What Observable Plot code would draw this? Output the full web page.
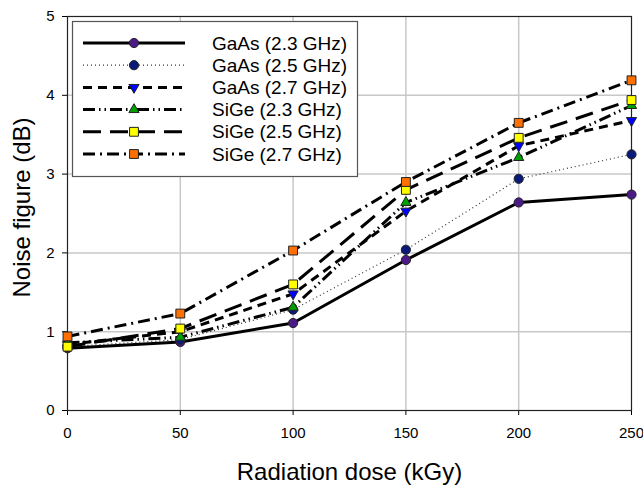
<!DOCTYPE html>
<html>
<head>
<meta charset="utf-8">
<script src="https://cdn.jsdelivr.net/npm/d3@7"></script>
<script src="https://cdn.jsdelivr.net/npm/@observablehq/plot@0.6"></script>
<style>
  html, body { margin: 0; padding: 0; background: #fff; }
  #chart { width: 643px; height: 486px; }
</style>
</head>
<body>
<div id="chart"></div>
<script>
// ---- data ----
const doses = [0, 50, 100, 150, 200, 250];
const seriesNames = ["GaAs (2.3 GHz)", "GaAs (2.5 GHz)", "GaAs (2.7 GHz)", "SiGe (2.3 GHz)", "SiGe (2.5 GHz)", "SiGe (2.7 GHz)"];
const gaas23 = [0.79, 0.87, 1.11, 1.91, 2.64, 2.74];
const gaas25 = [0.81, 0.90, 1.28, 2.04, 2.94, 3.25];
const gaas27 = [0.84, 1.00, 1.48, 2.53, 3.36, 3.68];
const sige23 = [0.86, 0.93, 1.31, 2.64, 3.21, 3.87];
const sige25 = [0.81, 1.04, 1.60, 2.80, 3.46, 3.94];
const sige27 = [0.94, 1.23, 2.03, 2.90, 3.65, 4.19];
const xTicks = [0, 50, 100, 150, 200, 250];
const yTicks = [0, 1, 2, 3, 4, 5];

// ---- styles ----
const downTriangle = {
  draw(context, size) {
    const s = Math.sqrt(4 * size / Math.sqrt(3));
    const h = s * Math.sqrt(3) / 2;
    context.moveTo(0, 2 * h / 3);
    context.lineTo(-s / 2, -h / 3);
    context.lineTo(s / 2, -h / 3);
    context.closePath();
  }
};
const styles = [
  {values: gaas23, stroke: "#000", width: 3, dash: null, symbol: "circle", fill: "#4b1a86", r: 4.6},
  {values: gaas25, stroke: "#333", width: 1.2, dash: "1,3", symbol: "circle", fill: "#0a1a7a", r: 4.6},
  {values: gaas27, stroke: "#000", width: 3, dash: "9,6", symbol: downTriangle, fill: "#0000ff", r: 3.8},
  {values: sige23, stroke: "#000", width: 3, dash: "12,4,1.5,4,1.5,4", symbol: "triangle", fill: "#00a000", r: 3.8},
  {values: sige25, stroke: "#000", width: 3, dash: "18,9", symbol: "square", fill: "#ffff00", r: 5},
  {values: sige27, stroke: "#000", width: 3, dash: "12,5,2,5", symbol: "square", fill: "#ff7000", r: 5}
];

const marks = [
  Plot.gridX([50, 100, 150, 200], {stroke: "#c8c8c8", strokeOpacity: 1, strokeWidth: 1.5}),
  Plot.gridY([1, 2, 3, 4], {stroke: "#c8c8c8", strokeOpacity: 1, strokeWidth: 1.5}),
  Plot.frame({stroke: "#222", strokeWidth: 1.2})
];
styles.forEach((s, i) => {
  const rows = doses.map((d, j) => ({dose: d, nf: s.values[j], name: seriesNames[i]}));
  marks.push(Plot.line(rows, {x: "dose", y: "nf", stroke: s.stroke, strokeWidth: s.width, strokeDasharray: s.dash, strokeLinecap: "butt", strokeLinejoin: "round"}));
});
styles.forEach((s, i) => {
  const rows = doses.map((d, j) => ({dose: d, nf: s.values[j]}));
  marks.push(Plot.dot(rows, {x: "dose", y: "nf", symbol: () => s.symbol, r: s.r, fill: s.fill, stroke: "#222", strokeWidth: 1}));
});
marks.push(Plot.text(["Radiation dose (kGy)"], {frameAnchor: "bottom", dy: 62, fontSize: 24, fill: "#000", textAnchor: "middle", lineAnchor: "middle"}));
marks.push(Plot.text(["Noise figure (dB)"], {frameAnchor: "left", dx: -45, dy: -6, rotate: -90, fontSize: 24, fill: "#000", textAnchor: "middle", lineAnchor: "middle"}));

const chart = Plot.plot({
  width: 643,
  height: 486,
  marginLeft: 67,
  marginRight: 12,
  marginTop: 16,
  marginBottom: 76,
  style: {fontFamily: "'Liberation Sans', Arial, sans-serif", fontSize: "15px", background: "#fff", color: "#000"},
  x: {domain: [0, 250], ticks: xTicks, tickSize: 5, tickPadding: 12, label: null, tickFormat: d => String(d)},
  y: {domain: [0, 5], ticks: yTicks, tickSize: 5, tickPadding: 8, label: null, tickFormat: d => String(d)},
  symbol: {type: "identity"},
  marks
});
document.getElementById("chart").appendChild(chart);

// ---- legend box (drawn into the same SVG) ----
const svg = d3.select(chart.tagName.toLowerCase() === "svg" ? chart : chart.querySelector("svg"));
const lg = svg.append("g").attr("class", "legend");
lg.append("rect").attr("x", 72.5).attr("y", 21.5).attr("width", 285).attr("height", 155)
  .attr("fill", "#fff").attr("stroke", "#555").attr("stroke-width", 1.2);
const symPath = (sym, r) => {
  const size = r * r * Math.PI;
  const map = {circle: d3.symbolCircle, square: d3.symbolSquare, triangle: d3.symbolTriangle};
  return d3.symbol(typeof sym === "string" ? map[sym] : sym, size)();
};
styles.forEach((s, i) => {
  const cy = 43 + i * 22.2;
  lg.append("line").attr("x1", 83).attr("x2", 185).attr("y1", cy).attr("y2", cy)
    .attr("stroke", s.stroke).attr("stroke-width", s.width)
    .attr("stroke-dasharray", s.dash).attr("stroke-linecap", "butt");
  lg.append("path").attr("d", symPath(s.symbol, s.r)).attr("transform", `translate(134,${cy})`)
    .attr("fill", s.fill).attr("stroke", "#222").attr("stroke-width", 1);
  lg.append("text").attr("x", 212).attr("y", cy).attr("dy", "0.35em")
    .attr("text-anchor", "start")
    .attr("font-size", 19).attr("fill", "#000").text(seriesNames[i]);
});
</script>
</body>
</html>
